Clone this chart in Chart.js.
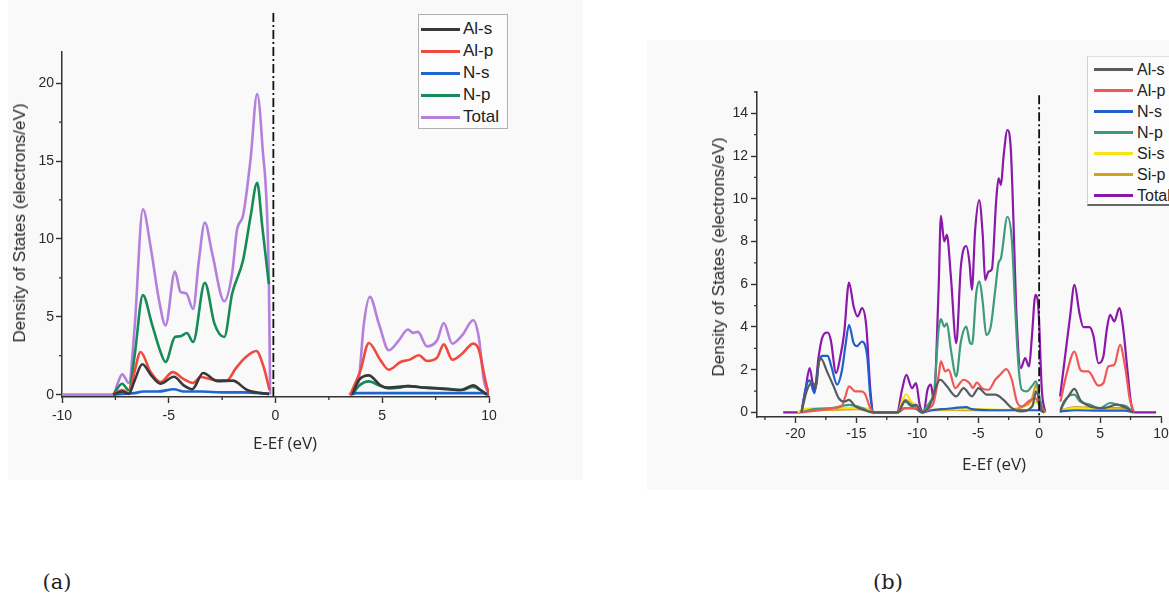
<!DOCTYPE html>
<html>
<head>
<meta charset="utf-8">
<script src="https://cdn.jsdelivr.net/npm/chart.js@4.4.1/dist/chart.umd.min.js"></script>
<style>
  html, body { margin: 0; padding: 0; background: #fff; }
  body { width: 1169px; height: 594px; overflow: hidden; position: relative;
         font-family: "Liberation Sans", Arial, sans-serif; color: #222; }
  .panel { position: absolute; background: #f9f9f9; }
  #panelA { left: 8px; top: 0; width: 575px; height: 480px; }
  #panelB { left: 647px; top: 40px; width: 522px; height: 450px; }
  canvas { position: absolute; }
  #chartA { left: 0; top: 0; }
  #chartB { left: 647px; top: 40px; }
  .ytitle { position: absolute; font-size: 17px; white-space: nowrap; color: #2a2a2a;
            transform: translate(-50%, -50%) rotate(-90deg); }
  .xtitle { position: absolute; font-family: "Open Sans", sans-serif; font-size: 17px;
            white-space: nowrap; color: #2a2a2a; transform: translate(-50%, -50%); }
  .tag { position: absolute; font-family: "DejaVu Serif", serif; font-size: 21px;
         color: #222; transform: translate(-50%, -50%); }
  .legend { position: absolute; box-sizing: border-box; }
  .legend .row { display: flex; align-items: center; white-space: nowrap; }
  .legend .sw { display: inline-block; width: 39px; }
  #legA { left: 418px; top: 14px; width: 90px; height: 115px; border: 1px solid #b0b0b0;
          background: #fcfcfc; padding-top: 3px; font-size: 17px; }
  #legA .row { height: 22px; }
  #legA .sw { height: 3px; margin: 0 3px 0 2px; }
  #legB { left: 1087px; top: 56px; width: 120px; height: 150px; border-left: 1px solid #d0d0d0;
          border-top: 1px solid #e0e0e0; border-bottom: 2px solid #666; background: #fcfcfc;
          padding-top: 2px; font-size: 16px; }
  #legB .row { height: 21px; }
  #legB .sw { height: 3px; margin: 0 4px 0 6px; }
</style>
</head>
<body>
<div class="panel" id="panelA"></div>
<div class="panel" id="panelB"></div>
<canvas id="chartA" width="583" height="480"></canvas>
<canvas id="chartB" width="560" height="450"></canvas>

<div class="ytitle" style="left:20px; top:223px;">Density of States (electrons/eV)</div>
<div class="xtitle" style="left:285px; top:442px;">E-Ef (eV)</div>
<div class="ytitle" style="left:719px; top:257px;">Density of States (electrons/eV)</div>
<div class="xtitle" style="left:994px; top:463px;">E-Ef (eV)</div>
<div class="legend" id="legA"></div>
<div class="legend" id="legB"></div>
<div class="tag" style="left:57px; top:582px;">(a)</div>
<div class="tag" style="left:888px; top:582px;">(b)</div>

<script>
// ---- Panel (a): AlN — energies (eV) and DOS (electrons/eV), null = band gap ----
const aAlsE = [-7.6, -7.18, -6.87, -6.6, -6.24, -5.8, -5.39, -4.76, -4.3, -3.9, -3.39, -2.73, -2.0, -1.33, -0.7, -0.3,
               1.5, 3.6, 3.9, 4.37, 4.92, 5.31, 6.2, 7.0, 8.0, 8.7, 9.26, 9.6, 9.9];
const aAls  = [0, 0.2, 0.05, 0.9, 1.95, 1.2, 0.7, 1.15, 0.6, 0.35, 1.39, 0.87, 0.9, 0.3, 0.1, 0.05,
               null, 0, 0.92, 1.24, 0.6, 0.45, 0.55, 0.45, 0.35, 0.3, 0.6, 0.3, 0];

const aAlpE = [-7.6, -7.18, -6.87, -6.6, -6.32, -5.85, -5.39, -4.81, -4.3, -3.86, -3.51, -2.73, -2.27, -1.87, -1.4, -0.9, -0.56, -0.28,
               1.5, 3.5, 3.98, 4.37, 4.92, 5.31, 5.85, 6.29, 6.71, 7.1, 7.57, 7.88, 8.28, 8.74, 9.26, 9.52, 9.84, 10];
const aAlp  = [0, 0.3, 0.1, 1.5, 2.74, 1.45, 0.81, 1.45, 1.0, 0.75, 1.13, 0.92, 0.92, 1.67, 2.4, 2.8, 1.8, 0.3,
               null, 0, 1.56, 3.32, 2.2, 1.6, 2.1, 2.25, 2.53, 2.16, 2.38, 3.23, 2.25, 2.63, 3.28, 2.9, 0.85, 0];

const aNsE  = [-7.6, -7.2, -6.6, -6.2, -5.5, -4.76, -4.3, -3.5, -2.5, -1.5, -0.7, -0.3,
               1.5, 3.5, 3.8, 5, 7, 9, 9.8, 10];
const aNs   = [0, 0.05, 0.1, 0.2, 0.2, 0.35, 0.2, 0.2, 0.15, 0.15, 0.1, 0.05,
               null, 0, 0.1, 0.1, 0.1, 0.1, 0.1, 0];

const aNpE  = [-7.6, -7.18, -6.87, -6.6, -6.21, -5.8, -5.4, -5.15, -4.71, -4.45, -4.15, -3.86, -3.31, -2.86, -2.4, -2.03, -1.52, -1.17, -0.86, -0.62, -0.31,
               1.5, 3.6, 3.9, 4.37, 4.92, 5.3, 5.8, 6.2, 7.0, 8.0, 8.7, 9.26, 9.6, 9.85, 10];
const aNp   = [0, 0.7, 0.28, 2.5, 6.39, 4.6, 2.8, 2.1, 3.7, 3.75, 3.96, 3.38, 7.18, 4.56, 3.7, 6.49, 8.63, 11.42, 13.61, 10.8, 7.1,
               null, 0, 0.55, 0.85, 0.55, 0.4, 0.45, 0.55, 0.45, 0.4, 0.3, 0.5, 0.3, 0.05, 0];

const aTotalE = [-10, -7.6, -7.4, -7.18, -6.87, -6.6, -6.21, -5.85, -5.46, -5.15, -4.71, -4.45, -4.18, -3.86, -3.59, -3.31, -2.97, -2.4, -2.03, -1.8, -1.52, -1.17, -0.86, -0.62, -0.31, -0.25,
                 1.5, 3.45, 3.7, 3.9, 4.14, 4.42, 4.84, 5.31, 5.78, 6.2, 6.45, 6.67, 7.1, 7.57, 7.88, 8.28, 8.74, 9.26, 9.52, 9.76, 10];
const aTotal  = [0, 0, 0.7, 1.3, 0.75, 4.3, 11.9, 9.5, 6.1, 4.45, 7.9, 6.6, 6.5, 5.5, 8.6, 11.05, 9.1, 6.0, 7.8, 10.6, 11.5, 15.1, 19.3, 16.1, 7.2, 0,
                 null, 0, 0.3, 0.92, 4.56, 6.28, 4.56, 2.85, 3.49, 4.18, 3.97, 4.03, 3.1, 3.49, 4.6, 3.28, 3.81, 4.78, 3.7, 0.92, 0];

const aNames  = ['Al-s', 'Al-p', 'N-s', 'N-p', 'Total'];
const aColors = ['#383838', '#f04a3e', '#1f66d1', '#168a57', '#b480dc'];

// ---- Panel (b): Si-doped AlN ----
const bAlsE = [-19.5, -19.04, -18.6, -18.3, -18.09, -17.95, -17.35, -16.86, -16.45, -15.99, -15.6, -15.08, -14.39, -13.7, -11.6, -11.0, -10.5, -10.1, -9.6, -9.0,
               -8.11, -7.57, -6.8, -6.2, -5.52, -4.97, -4.29, -3.6, -2.92, -2.24, -1.5, -0.56, -0.25, 0.2, 0.45,
               1.1, 1.75, 1.86, 2.4, 2.9, 3.37, 4.18, 5.27, 6.36, 7.18, 7.73];
const bAls  = [0, 1.06, 1.4, 1.2, 2.3, 2.55, 1.84, 1.22, 0.67, 0.51, 0.59, 0.28, 0.12, 0, 0, 0.55, 0.3, 0.35, 0, 0.3,
               1.53, 1.22, 0.75, 1.14, 0.75, 1.14, 0.83, 0.83, 0.59, 0.2, 0.05, 0.28, 0.98, 0.1, 0,
               null, 0, 0.28, 0.75, 1.1, 0.59, 0.28, 0.2, 0.36, 0.2, 0];

const bAlpE = [-19.5, -18, -17, -16.2, -15.9, -15.6, -15.08, -14.66, -14.33, -13.85, -13.5, -11.6, -11, -10, -9.5, -9.0,
               -8.66, -8.25, -8.06, -7.71, -7.43, -6.88, -6.2, -5.71, -5.44, -5.11, -4.7, -4.15, -3.6, -3.2, -2.7, -2.24, -1.83, -1.42, -0.88, -0.33, 0.08, 0.4,
               1.1, 1.75, 2.27, 2.9, 3.37, 3.63, 4.04, 4.86, 5.27, 5.68, 6.17, 6.64, 7.05, 7.45, 7.79];
const bAlp  = [0, 0.1, 0.2, 0.3, 0.75, 1.22, 0.98, 0.98, 0.9, 0.2, 0, 0, 0.2, 0.2, 0, 0.2,
               0.44, 1.69, 2.39, 1.92, 2.0, 1.14, 1.53, 1.37, 1.14, 1.4, 1.14, 1.06, 1.53, 1.76, 2.03, 1.53, 0.51, 0.28, 0.51, 0.67, 0.3, 0,
               null, 0.5, 1.84, 2.85, 2.0, 1.92, 1.92, 1.25, 1.37, 2.15, 2.23, 3.16, 2.15, 0.59, 0];

const bNsE  = [-19.5, -19.04, -18.83, -18.44, -18.09, -17.81, -17.35, -17.05, -16.58, -16.17, -15.9, -15.6, -15.22, -14.96, -14.53, -14.1, -13.85, -13.58,
               -11.6, -11.0, -10.5, -10.0, -9.6, -8.8, -8.0, -7.0, -6.0, -5.5, -4.0, -2.0, -1.0, 0, 0.4,
               1.1, 1.75, 3, 5, 7, 7.8];
const bNs   = [0, 1.37, 1.5, 0.9, 2.3, 2.65, 2.65, 2.15, 1.3, 2.0, 3.1, 4.1, 3.24, 3.1, 3.32, 2.6, 0.75, 0,
               0, 0.2, 0.2, 0.15, 0, 0.1, 0.15, 0.2, 0.25, 0.15, 0.1, 0.1, 0.1, 0.1, 0,
               null, 0.05, 0.1, 0.08, 0.08, 0];

const bNpE  = [-19.5, -18.5, -17, -15.6, -14.5, -13.7, -11.6, -11, -10.3, -9.6, -9.2, -8.93, -8.6, -8.25, -8.06, -7.79, -7.57, -7.24, -6.8, -6.42,
               -5.98, -5.66, -5.5, -5.16, -4.89, -4.62, -4.34, -3.97, -3.6, -3.33, -3.13, -2.6, -2.24, -1.97, -1.69, -1.42, -1.01, -0.6, -0.25, 0.08, 0.36,
               1.1, 1.75, 2.4, 2.87, 3.37, 4.18, 5.0, 5.82, 6.5, 7.18, 7.7];
const bNp   = [0, 0.15, 0.2, 0.35, 0.2, 0, 0, 0.5, 0.3, 0, 0.3, 0.51, 1.06, 3.87, 4.37, 4.02, 4.17, 2.93, 1.68, 3.32,
               4.02, 3.24, 3.2, 5.59, 6.13, 5.12, 3.63, 4.02, 5.74, 6.99, 7.22, 9.16, 8.07, 4.96, 2.15, 1.06, 0.98, 1.22, 1.45, 0.59, 0,
               null, 0.12, 0.75, 0.83, 0.51, 0.36, 0.2, 0.44, 0.36, 0.28, 0];

const bSisE = [-19.8, -19.3, -17, -15, -13.8, -13.5, -11.6, -11.2, -10.9, -10.5, -10.0, -9.6, -9.0, -7, -5, -3, -1, -0.25, 0.2, 0.5,
               1.1, 1.75, 3, 5, 7, 7.7];
const bSis  = [0, 0.15, 0.2, 0.2, 0.15, 0, 0, 0.6, 0.85, 0.5, 0.3, 0, 0.1, 0.15, 0.15, 0.12, 0.1, 0.5, 0.1, 0,
               null, 0.1, 0.2, 0.15, 0.1, 0];

const bSipE = [-19.8, -19.3, -17, -15, -13.8, -13.5, -11.6, -11.0, -10.5, -10, -9.6, -9, -7, -5, -3, -1.2, -0.6, -0.25, 0.1, 0.45,
               1.1, 1.75, 3, 5, 7, 7.7];
const bSip  = [0, 0.1, 0.12, 0.15, 0.1, 0, 0, 0.6, 0.4, 0.2, 0, 0.1, 0.12, 0.1, 0.1, 0.3, 0.6, 1.3, 0.4, 0,
               null, 0.1, 0.25, 0.2, 0.2, 0];

const bTotalE = [-21, -19.6, -19.18, -18.83, -18.44, -18.09, -17.81, -17.35, -17.1, -16.66, -16.31, -16.0, -15.6, -15.22, -14.9, -14.53, -14.18, -13.85, -13.58, -13.3,
                 -11.9, -11.66, -11.25, -10.9, -10.43, -10.1, -9.8, -9.48, -9.16, -8.88, -8.66, -8.25, -8.06, -7.79, -7.57, -7.24, -6.8, -6.42, -5.98, -5.71,
                 -5.52, -5.25, -4.92, -4.62, -4.43, -4.15, -3.88, -3.52, -3.33, -3.13, -2.92, -2.6, -2.32, -2.1, -1.89, -1.5, -1.15, -0.82, -0.6, -0.3, -0.05, 0.22, 0.5,
                 1.1, 1.72, 2.13, 2.54, 2.9, 3.31, 3.63, 4.13, 4.45, 4.86, 5.27, 5.55, 5.82, 6.17, 6.58, 6.91, 7.27, 7.54, 7.87, 9.6];
const bTotal  = [0, 0, 1.06, 2.07, 0.98, 2.62, 3.48, 3.74, 3.4, 1.84, 2.62, 3.7, 6.08, 4.96, 4.49, 4.88, 4.02, 1.06, 0, 0,
                 0, 0, 1.06, 1.76, 1.14, 1.37, 0.36, 0, 1.06, 1.3, 0.6, 5.74, 9.2, 8.0, 8.31, 6.36, 3.24, 6.83, 7.79, 6.98,
                 5.74, 8.54, 9.94, 8.23, 6.2, 6.59, 6.7, 9.94, 10.96, 10.65, 11.97, 13.22, 12.28, 8.85, 4.96, 2.07, 2.54, 2.15, 3.5, 5.5, 4.8, 1.06, 0,
                 null, 0.75, 2.62, 4.49, 5.97, 4.64, 3.99, 3.99, 3.6, 2.31, 2.62, 3.87, 4.57, 4.26, 4.88, 3.87, 1.84, 0.44, 0, 0];

const bNames  = ['Al-s', 'Al-p', 'N-s', 'N-p', 'Si-s', 'Si-p', 'Total'];
const bColors = ['#585c5c', '#f05858', '#1f5fd0', '#3f9a7c', '#f6e414', '#d2a21c', '#8a18a8'];

const pts = (E, V) => E.map((e, i) => ({ x: e, y: V[i] }));

// minor ticks + Fermi level dash-dot line
const decor = {
  id: 'decor',
  afterDraw(chart, args, o) {
    const { ctx, scales: { x, y } } = chart;
    ctx.save();
    ctx.strokeStyle = '#333';
    ctx.lineWidth = 1.3;
    ctx.beginPath();
    for (let k = Math.ceil(x.min / o.xMinor); k * o.xMinor <= x.max; k++) {
      if (k % 2 === 0) continue;
      const px = x.getPixelForValue(k * o.xMinor);
      ctx.moveTo(px, x.top); ctx.lineTo(px, x.top + 3);
    }
    for (let k = Math.ceil(y.min / o.yMinor); k * o.yMinor <= y.max; k++) {
      if (k % 2 === 0) continue;
      const py = y.getPixelForValue(k * o.yMinor);
      ctx.moveTo(y.right, py); ctx.lineTo(y.right - 3, py);
    }
    ctx.stroke();

    ctx.strokeStyle = '#111';
    ctx.lineWidth = 1.8;
    ctx.setLineDash([9, 3, 2, 3]);
    const fx = x.getPixelForValue(o.fermi);
    ctx.beginPath();
    ctx.moveTo(fx, y.getPixelForValue(o.fermiTop));
    ctx.lineTo(fx, y.bottom);
    ctx.stroke();
    ctx.restore();
  }
};

function dosChart(canvasId, series, cfg) {
  const ctx = document.getElementById(canvasId);
  const datasets = series.map(s => ({
    label: s.name,
    data: pts(s.E, s.V),
    borderColor: s.color,
    backgroundColor: s.color,
    borderWidth: cfg.lineWidth,
    pointRadius: 0,
    cubicInterpolationMode: 'monotone',
    spanGaps: false,
  }));
  const tickFont = { family: 'Liberation Sans', size: 14 };
  return new Chart(ctx, {
    type: 'line',
    data: { datasets },
    plugins: [decor],
    options: {
      responsive: false,
      animation: false,
      layout: { padding: cfg.padding },
      plugins: {
        legend: { display: false },
        tooltip: { enabled: false },
        decor: { xMinor: cfg.xStep / 2, yMinor: cfg.yStep / 2, fermi: cfg.fermi, fermiTop: cfg.fermiTop },
      },
      scales: {
        x: {
          type: 'linear', min: cfg.xMin, max: cfg.xMax,
          border: { display: true, color: '#333', width: 1.5 },
          grid: { drawOnChartArea: false, drawTicks: true, tickLength: 6, color: '#333', tickWidth: 1.4 },
          ticks: { stepSize: cfg.xStep, includeBounds: false, autoSkip: false, maxRotation: 0,
                   color: '#2a2a2a', font: tickFont, padding: cfg.xPad },
          afterFit: s => { s.height = 40; },
        },
        y: {
          type: 'linear', min: cfg.yMin, max: cfg.yMax,
          border: { display: true, color: '#333', width: 1.5 },
          grid: { drawOnChartArea: false, drawTicks: true, tickLength: 6, color: '#333', tickWidth: 1.4 },
          ticks: { stepSize: cfg.yStep, includeBounds: false, color: '#2a2a2a', font: tickFont, padding: cfg.yPad },
          afterFit: s => { s.width = 50; },
        }
      }
    }
  });
}

function buildLegend(id, names, colors) {
  const el = document.getElementById(id);
  names.forEach((n, i) => {
    const row = document.createElement('div');
    row.className = 'row';
    row.innerHTML = `<span class="sw" style="background:${colors[i]}"></span><span>${n}</span>`;
    el.appendChild(row);
  });
}

const aSeries = [
  { E: aAlsE, V: aAls }, { E: aAlpE, V: aAlp }, { E: aNsE, V: aNs }, { E: aNpE, V: aNp }, { E: aTotalE, V: aTotal }
].map((s, i) => ({ ...s, name: aNames[i], color: aColors[i] }));

const bSeries = [
  { E: bAlsE, V: bAls }, { E: bAlpE, V: bAlp }, { E: bNsE, V: bNs }, { E: bNpE, V: bNp },
  { E: bSisE, V: bSis }, { E: bSipE, V: bSip }, { E: bTotalE, V: bTotal }
].map((s, i) => ({ ...s, name: bNames[i], color: bColors[i] }));

dosChart('chartA', aSeries, {
  xMin: -10, xMax: 10, xStep: 5, yMin: -0.15, yMax: 22, yStep: 5,
  fermi: -0.1, fermiTop: 24.5, lineWidth: 2.6, xPad: 5, yPad: 2,
  padding: { left: 12, top: 52, right: 94, bottom: 43 },
});

dosChart('chartB', bSeries, {
  xMin: -23.15, xMax: 10, xStep: 5, yMin: -0.215, yMax: 15, yStep: 2,
  fermi: 0, fermiTop: 14.85, lineWidth: 2.2, xPad: 3, yPad: 3,
  padding: { left: 60, top: 52, right: 46, bottom: 33 },
});

buildLegend('legA', aNames, aColors);
buildLegend('legB', bNames, bColors);
</script>
</body>
</html>
